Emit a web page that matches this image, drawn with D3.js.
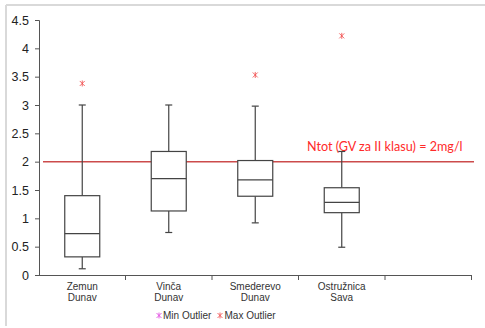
<!DOCTYPE html>
<html><head><meta charset="utf-8">
<script src="https://cdn.jsdelivr.net/npm/d3@7"></script>
<style>body{margin:0;background:#fff}svg{display:block}</style>
</head><body>
<svg id="c" width="485" height="328"></svg>
<script>
const categories = [["Zemun","Dunav"],["Vinča","Dunav"],["Smederevo","Dunav"],["Ostružnica","Sava"],["",""]];
const whiskerMin = [0.11, 0.75, 0.92, 0.49];
const q1 = [0.32, 1.13, 1.39, 1.10];
const median = [0.73, 1.70, 1.68, 1.28];
const q3 = [1.40, 2.18, 2.02, 1.54];
const whiskerMax = [3.00, 3.00, 2.98, 2.18];
const maxOutlier = [3.38, null, 3.53, 4.22];
const yTicks = [0, 0.5, 1, 1.5, 2, 2.5, 3, 3.5, 4, 4.5];
const limitValue = 2;
const limitLabel = "Ntot (GV za II klasu) = 2mg/l";
const legendLabels = ["Min Outlier", "Max Outlier"];

const svg = d3.select("#c");
const x = d3.scaleBand().domain(d3.range(categories.length)).range([39, 471.5]).padding(0);
const y = d3.scaleLinear().domain([0, 4.5]).range([275, 20]);

// frame
svg.append("line").attr("x1",6).attr("x2",485).attr("y1",5).attr("y2",5).attr("stroke","#d9d9d9").attr("stroke-width",2);
svg.append("line").attr("x1",6).attr("x2",6).attr("y1",5).attr("y2",326).attr("stroke","#d9d9d9").attr("stroke-width",2);

// y axis
const yAx = svg.append("g").attr("transform","translate(39,0)")
  .call(d3.axisLeft(y).tickValues(yTicks).tickSize(4).tickPadding(6).tickFormat(d3.format("")));
yAx.select(".domain").attr("stroke","#555");
yAx.selectAll(".tick line").attr("stroke","#555");
yAx.selectAll("text").attr("font-family","Liberation Sans, Arial, sans-serif").attr("font-size",12.5).attr("fill","#222");

// x axis
const xEdges = d3.range(categories.length + 1).map(i => i < categories.length ? x(i) : x(categories.length-1) + x.bandwidth());
svg.append("line").attr("x1",39).attr("x2",xEdges[xEdges.length-1]).attr("y1",275.5).attr("y2",275.5).attr("stroke","#555");
svg.selectAll(".xt").data(xEdges.slice(1)).join("line")
  .attr("x1",d=>d).attr("x2",d=>d).attr("y1",275).attr("y2",280).attr("stroke","#555");
const xl = svg.selectAll(".xl").data(categories).join("text")
  .attr("x",(d,i)=>x(i)+x.bandwidth()/2).attr("y",290)
  .attr("text-anchor","middle").attr("font-family","Liberation Sans, Arial, sans-serif")
  .attr("font-size",10).attr("fill","#333");
xl.append("tspan").attr("x",(d,i)=>x(i)+x.bandwidth()/2).attr("dy",0).text(d=>d[0]);
xl.append("tspan").attr("x",(d,i)=>x(i)+x.bandwidth()/2).attr("dy",11).text(d=>d[1]);

// limit line
svg.append("line").attr("x1",43).attr("x2",474).attr("y1",y(limitValue)).attr("y2",y(limitValue))
  .attr("stroke","#cc4b4b").attr("stroke-width",1.5);
svg.append("text").attr("x",307).attr("y",151).attr("font-family","Lato, Open Sans, sans-serif")
  .attr("font-size",12.6).attr("fill","#ff2a2a").text(limitLabel);

// boxes
const boxW = 35, capW = 7;
const g = svg.append("g").attr("stroke","#444").attr("fill","none").attr("stroke-width",1.2);
whiskerMin.forEach((mn,i)=>{
  const cx = x(i)+x.bandwidth()/2;
  g.append("line").attr("x1",cx).attr("x2",cx).attr("y1",y(whiskerMax[i])).attr("y2",y(q3[i]));
  g.append("line").attr("x1",cx).attr("x2",cx).attr("y1",y(q1[i])).attr("y2",y(mn));
  g.append("line").attr("x1",cx-capW/2).attr("x2",cx+capW/2).attr("y1",y(whiskerMax[i])).attr("y2",y(whiskerMax[i]));
  g.append("line").attr("x1",cx-capW/2).attr("x2",cx+capW/2).attr("y1",y(mn)).attr("y2",y(mn));
  g.append("rect").attr("x",cx-boxW/2).attr("y",y(q3[i])).attr("width",boxW).attr("height",y(q1[i])-y(q3[i])).attr("fill","#fff");
  g.append("line").attr("x1",cx-boxW/2).attr("x2",cx+boxW/2).attr("y1",y(median[i])).attr("y2",y(median[i]));
});

// outliers
function star(sel, cx, cy, color){
  const s = 2.5;
  const gg = sel.append("g").attr("stroke",color).attr("stroke-width",0.9).attr("stroke-opacity",0.9);
  gg.append("line").attr("x1",cx-s).attr("x2",cx+s).attr("y1",cy-s).attr("y2",cy+s);
  gg.append("line").attr("x1",cx-s).attr("x2",cx+s).attr("y1",cy+s).attr("y2",cy-s);
  gg.append("line").attr("x1",cx).attr("x2",cx).attr("y1",cy-s-0.5).attr("y2",cy+s+0.5);
}
maxOutlier.forEach((v,i)=>{ if(v!=null) star(svg, x(i)+x.bandwidth()/2, y(v), "#f04848"); });

// legend
star(svg, 159, 315.5, "#e040e0");
svg.append("text").attr("x",163).attr("y",319).attr("font-family","Liberation Sans, Arial, sans-serif").attr("font-size",10).attr("fill","#333").text(legendLabels[0]);
star(svg, 220, 315.5, "#f04848");
svg.append("text").attr("x",224.5).attr("y",319).attr("font-family","Liberation Sans, Arial, sans-serif").attr("font-size",10).attr("fill","#333").text(legendLabels[1]);
</script>
</body></html>
